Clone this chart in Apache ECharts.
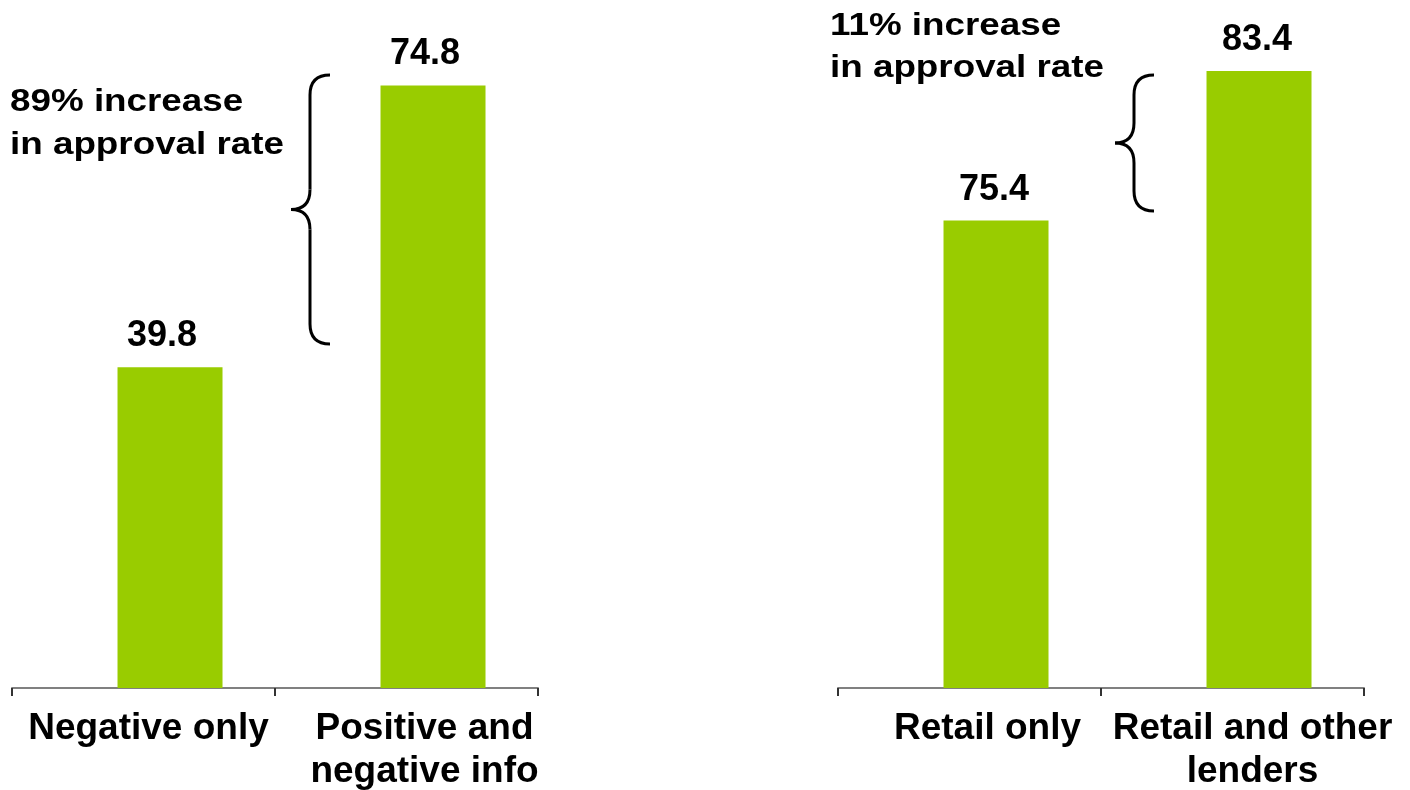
<!DOCTYPE html>
<html>
<head>
<meta charset="utf-8">
<script src="https://cdn.jsdelivr.net/npm/echarts@6/dist/echarts.min.js"></script>
<style>
  html, body { margin: 0; padding: 0; background: #fff; }
  #chart { width: 1410px; height: 790px; }
</style>
</head>
<body>
<div id="chart"></div>
<script>
// left panel: credit info type
const leftCategories = ['Negative only', 'Positive and\nnegative info']
const leftValues = [39.8, 74.8]
// right panel: data source
const rightCategories = ['Retail only', 'Retail and other\nlenders']
const rightValues = [75.4, 83.4]

const leftNote = '89% increase\nin approval rate'
const rightNote = '11% increase\nin approval rate'

const FONT = '"Liberation Sans", Arial, Helvetica, sans-serif'
const GREEN = '#99cc00'

// labels sit a little right of the category centre in the original
function xAxisFor(gridIndex, names, shifts) {
  return {
    type: 'category',
    gridIndex,
    data: names.map((name, i) => ({
      value: name,
      textStyle: { padding: [0, 0, 0, shifts[i] * 2] }
    })),
    axisLine: { lineStyle: { color: '#808080', width: 2 } },
    axisTick: { show: true, length: 8, lineStyle: { color: '#333', width: 2 } },
    axisLabel: {
      color: '#000',
      fontFamily: FONT,
      fontWeight: 'bold',
      fontSize: 37,
      lineHeight: 43,
      margin: 19,
      interval: 0
    }
  }
}

function yAxisFor(gridIndex, min, max) {
  return { type: 'value', gridIndex, min, max, show: false, splitLine: { show: false } }
}

function barsFor(index, values, labelShift) {
  // empty placeholder series + negative gap pushes the real bar right of the category centre
  return [
    { type: 'bar', xAxisIndex: index, yAxisIndex: index, data: [], barWidth: 105, silent: true },
    {
      type: 'bar',
      xAxisIndex: index,
      yAxisIndex: index,
      data: values,
      barWidth: 105,
      barGap: '-49.5%',
      itemStyle: { color: GREEN },
      label: {
        show: true,
        position: 'top',
        distance: 13,
        offset: [labelShift, 0],
        color: '#000',
        fontFamily: FONT,
        fontWeight: 'bold',
        fontSize: 36,
        lineHeight: 36
      }
    }
  ]
}

function note(text, x, y, lineHeight) {
  return {
    type: 'text',
    x,
    y,
    scaleX: 1.15,
    style: {
      text,
      fill: '#000',
      font: 'bold 32px ' + FONT,
      lineHeight,
      textAlign: 'left',
      textVerticalAlign: 'top'
    }
  }
}

// curly brace "{" with its point on the left
function brace(xTip, yTop, yBot) {
  const stem = xTip + 19
  const end = xTip + 39
  const mid = (yTop + yBot) / 2
  const r = 20
  const st = { stroke: '#000', lineWidth: 3, fill: null }
  return {
    type: 'group',
    children: [
      { type: 'bezierCurve', shape: { x1: end, y1: yTop, cpx1: stem, cpy1: yTop, x2: stem, y2: yTop + r }, style: st },
      { type: 'line', shape: { x1: stem, y1: yTop + r, x2: stem, y2: mid - r }, style: st },
      { type: 'bezierCurve', shape: { x1: stem, y1: mid - r, cpx1: stem, cpy1: mid, x2: xTip, y2: mid }, style: st },
      { type: 'bezierCurve', shape: { x1: xTip, y1: mid, cpx1: stem, cpy1: mid, x2: stem, y2: mid + r }, style: st },
      { type: 'line', shape: { x1: stem, y1: mid + r, x2: stem, y2: yBot - r }, style: st },
      { type: 'bezierCurve', shape: { x1: stem, y1: yBot - r, cpx1: stem, cpy1: yBot, x2: end, y2: yBot }, style: st }
    ]
  }
}

const option = {
  animation: false,
  backgroundColor: '#fff',
  grid: [
    { left: 12, top: 0, width: 526, height: 688, outerBoundsMode: 'none' },
    { left: 838, top: 0, width: 526, height: 688, outerBoundsMode: 'none' }
  ],
  xAxis: [xAxisFor(0, leftCategories, [5, 18]), xAxisFor(1, rightCategories, [18, 20])],
  yAxis: [yAxisFor(0, 0, 85.4), yAxisFor(1, 50.4, 87.2)],
  series: [...barsFor(0, leftValues, -8), ...barsFor(1, rightValues, -2)],
  graphic: [
    note(leftNote, 10, 81, 43),
    note(rightNote, 830, 5, 42),
    brace(291, 75, 344),
    brace(1115, 75, 211)
  ]
}

const chart = echarts.init(document.getElementById('chart'))
chart.setOption(option)
</script>
</body>
</html>
